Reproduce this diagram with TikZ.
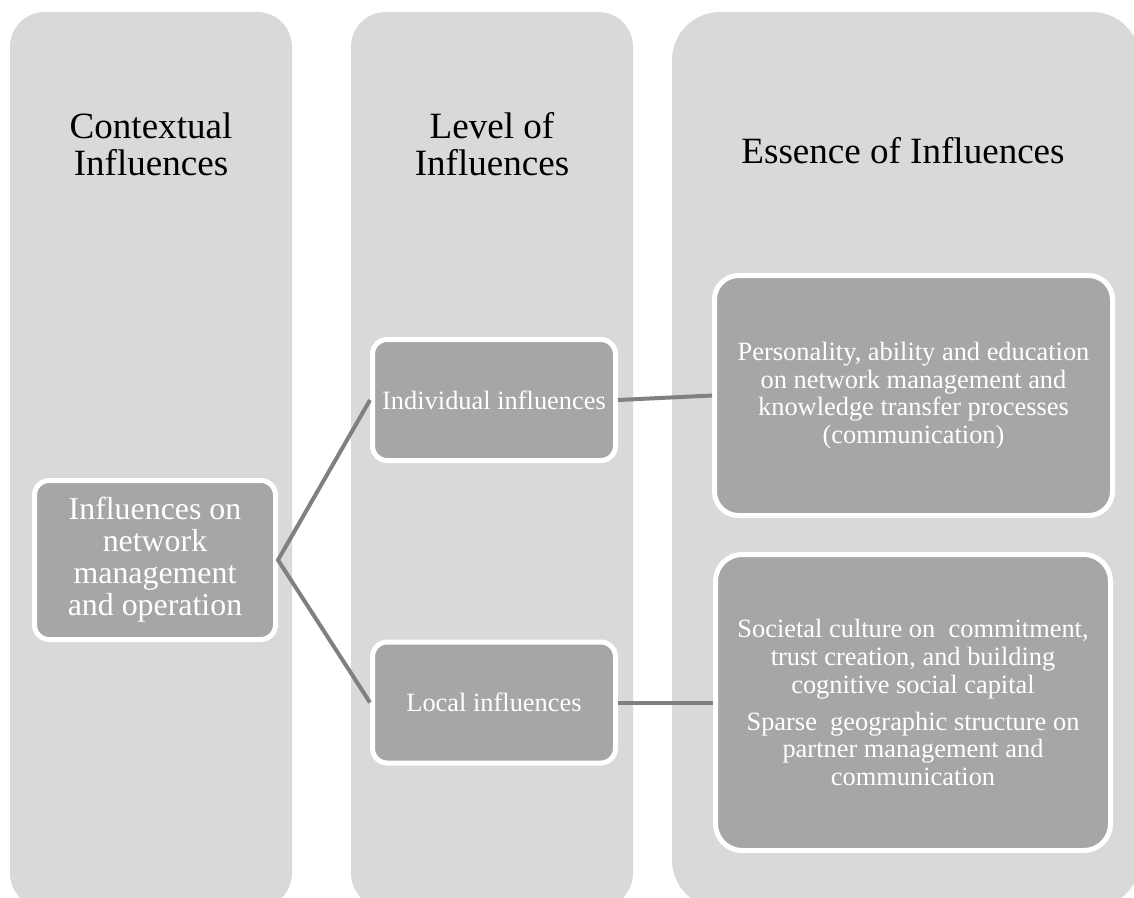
\documentclass[tikz,border=0pt]{standalone}
\usepackage{fontspec}
\setmainfont{Liberation Serif}
\usepackage{tikz}

\definecolor{colbg}{RGB}{217,217,217}
\definecolor{boxbg}{RGB}{166,166,166}
\definecolor{linkgray}{RGB}{128,128,128}

\tikzset{
  headtext/.style={anchor=center, inner sep=0pt, align=center, font=\fontsize{27.8}{27.8}\selectfont},
  infobox/.style={draw=white, line width=3.75pt, fill=boxbg, text=white, rounded corners=11pt,
    inner sep=0pt, align=center, font=\fontsize{19.8}{20.7}\selectfont},
  link/.style={draw=linkgray, line width=3pt}
}

\begin{document}
\begin{tikzpicture}[x=0.75pt,y=0.75pt,yscale=-1,xscale=1]
\clip (0,0) rectangle (1134,897);

%Shape: Rounded Rect [columns]
\fill [colbg, rounded corners=26pt] (10,12) rectangle (292,908) ;
\fill [colbg, rounded corners=26pt] (351,12) rectangle (633,908) ;
\fill [colbg, rounded corners=36pt] (672,12) rectangle (1140,908) ;

% Text Node
\node [headtext] (hctx) at (151,144) {Contextual\\Influences};
% Text Node
\node [headtext] (hlvl) at (492,144) {Level of\\Influences};
% Text Node
\node [headtext] (hess) at (903,151) {Essence of Influences};

%Shape: Rounded Rect [boxes]
\node [infobox, minimum width=180.75pt, minimum height=119.25pt,
  font=\fontsize{23.9}{24}\selectfont] (ctx) at (155,560)
  {Influences on\\network\\management\\and operation};
\node [infobox, minimum width=182.25pt, minimum height=90.75pt] (ind) at (494,400)
  {Individual influences};
\node [infobox, minimum width=182.25pt, minimum height=90.75pt] (loc) at (494,702.5)
  {Local influences};
\node [infobox, minimum width=298.5pt, minimum height=180pt, rounded corners=18pt] (pers) at (913.5,395.5)
  {Personality, ability and education\\on network management and\\knowledge transfer processes\\(communication)};
\node [infobox, minimum width=296.25pt, minimum height=222pt, rounded corners=20pt] (soc) at (913,702.5)
  {Societal culture on\ \ commitment,\\trust creation, and building\\cognitive social capital\\[7pt]
   Sparse\ \ geographic structure on\\partner management and\\communication};

%Straight Lines
\draw [link] (ind.west) -- (ctx.east) -- (loc.west) ;
\draw [link] (ind.east) -- (pers.west) ;
\draw [link] (loc.east) -- (soc.west) ;

\end{tikzpicture}
\end{document}
